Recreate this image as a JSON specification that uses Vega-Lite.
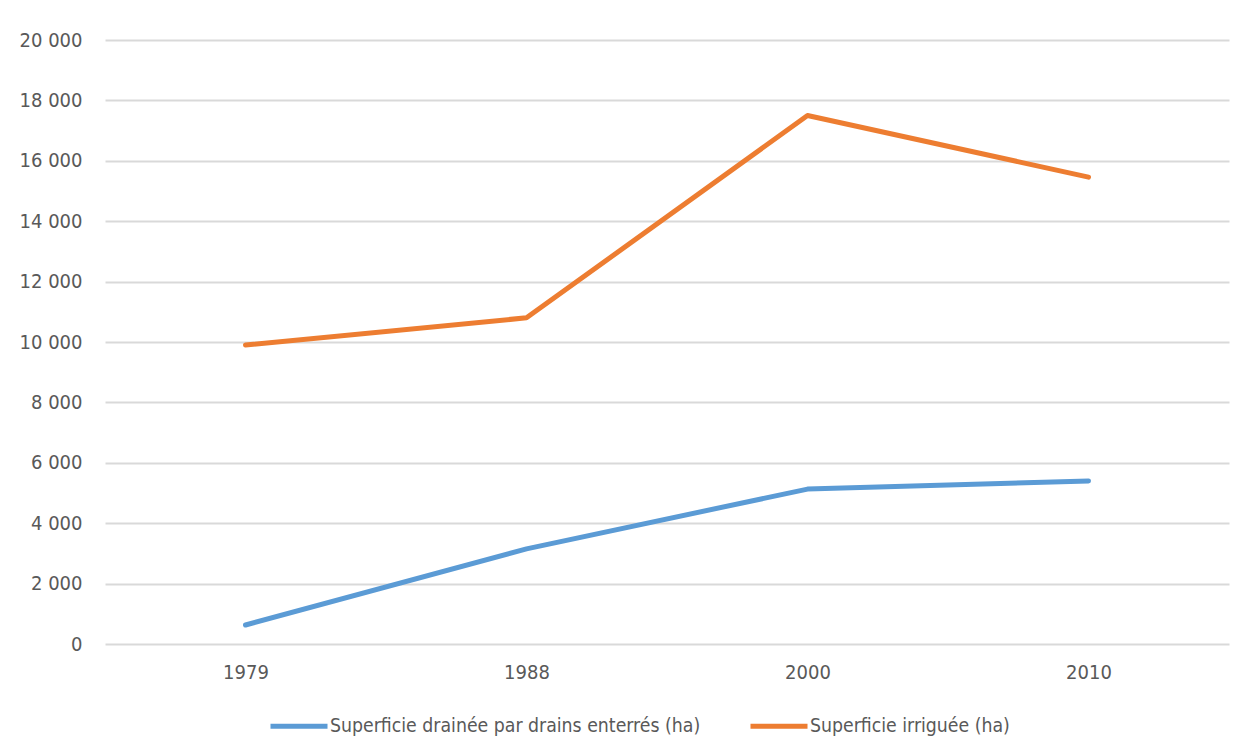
{
  "$schema": "https://vega.github.io/schema/vega-lite/v6.json",
  "autosize": "none",
  "width": 1124,
  "height": 604,
  "padding": {"left": 105, "top": 40, "right": 22, "bottom": 112},
  "background": "#ffffff",
  "config": {
    "view": {"stroke": null},
    "font": "DejaVu Sans Condensed"
  },
  "data": {
    "values": [
      {"annee": "1979", "serie": "Superficie drainée par drains enterrés (ha)", "valeur": 630},
      {"annee": "1988", "serie": "Superficie drainée par drains enterrés (ha)", "valeur": 3150},
      {"annee": "2000", "serie": "Superficie drainée par drains enterrés (ha)", "valeur": 5130},
      {"annee": "2010", "serie": "Superficie drainée par drains enterrés (ha)", "valeur": 5400},
      {"annee": "1979", "serie": "Superficie irriguée (ha)", "valeur": 9900},
      {"annee": "1988", "serie": "Superficie irriguée (ha)", "valeur": 10800},
      {"annee": "2000", "serie": "Superficie irriguée (ha)", "valeur": 17500},
      {"annee": "2010", "serie": "Superficie irriguée (ha)", "valeur": 15460}
    ]
  },
  "mark": {"type": "line", "strokeWidth": 5, "strokeCap": "round", "strokeJoin": "round"},
  "encoding": {
    "x": {
      "field": "annee",
      "type": "ordinal",
      "scale": {"type": "point", "padding": 0.5},
      "axis": {
        "title": null,
        "domain": false,
        "ticks": false,
        "grid": false,
        "labelAngle": 0,
        "labelFont": "DejaVu Sans Condensed",
        "labelFontSize": 20,
        "labelColor": "#595959",
        "labelPadding": 18
      }
    },
    "y": {
      "field": "valeur",
      "type": "quantitative",
      "scale": {"domain": [0, 20000], "nice": false},
      "axis": {
        "title": null,
        "values": [0, 2000, 4000, 6000, 8000, 10000, 12000, 14000, 16000, 18000, 20000],
        "labelExpr": "replace(format(datum.value, ',d'), ',', ' ')",
        "domain": false,
        "ticks": false,
        "grid": true,
        "gridColor": "#D9D9D9",
        "gridWidth": 2,
        "labelFont": "DejaVu Sans Condensed",
        "labelFontSize": 20,
        "labelColor": "#595959",
        "labelPadding": 23
      }
    },
    "color": {
      "field": "serie",
      "type": "nominal",
      "scale": {
        "domain": ["Superficie drainée par drains enterrés (ha)", "Superficie irriguée (ha)"],
        "range": ["#5B9BD5", "#ED7D31"]
      },
      "legend": {
        "title": null,
        "orient": "none",
        "legendX": 163,
        "legendY": 655,
        "direction": "horizontal",
        "symbolType": "stroke",
        "symbolSize": 3249,
        "symbolStrokeWidth": 5,
        "labelFont": "DejaVu Sans Condensed",
        "labelFontSize": 19.3,
        "labelColor": "#595959",
        "labelOffset": 0,
        "columnPadding": 39,
        "labelLimit": 600
      }
    }
  }
}
